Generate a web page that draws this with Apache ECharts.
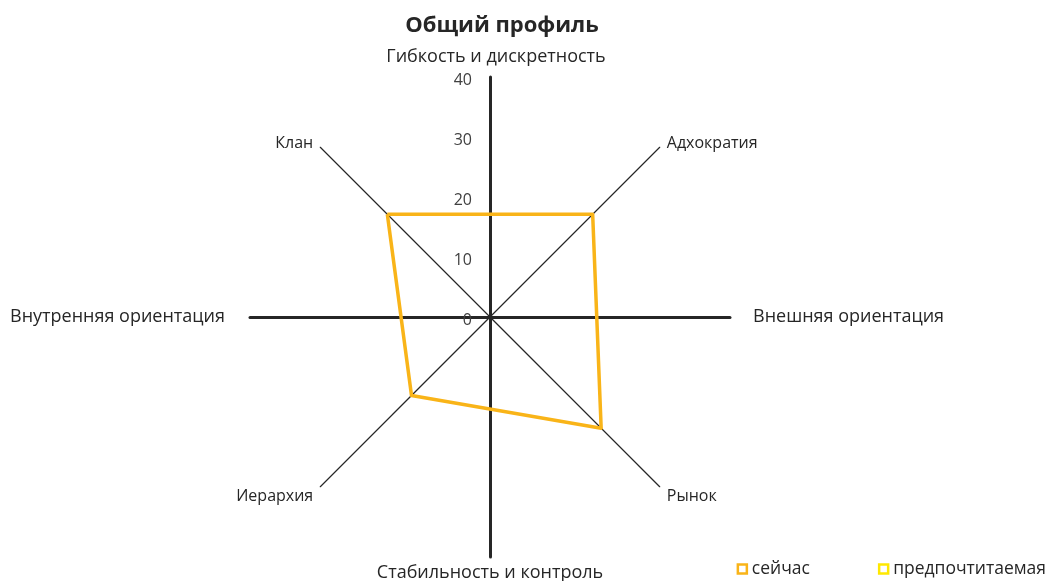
<!DOCTYPE html>
<html>
<head>
<meta charset="utf-8">
<script src="https://cdn.jsdelivr.net/npm/echarts@6/dist/echarts.min.js"></script>
<style>
  html, body { margin: 0; padding: 0; background: #ffffff; }
  #chart { width: 1053px; height: 581px; }
</style>
</head>
<body>
<div id="chart"></div>
<script>
// Culture types on the diagonals, listed from Клан going counter-clockwise
const cultureTypes = ['Клан', 'Иерархия', 'Рынок', 'Адхократия'];
// Poles of the two dimensions: top, left, bottom, right
const dimensionPoles = ['Гибкость и дискретность', 'Внутренняя ориентация', 'Стабильность и контроль', 'Внешняя ориентация'];
// Scores per culture type, same order as cultureTypes
const currentScores = [24.2, 18.5, 26.2, 24.2];
const preferredScores = [];
const seriesNames = ['сейчас', 'предпочтитаемая'];
const scaleMin = 0;
const scaleMax = 40;
const scaleSteps = 4;

const FONT = '"Open Sans", "Noto Sans", sans-serif';
const INK = '#262626';
const CURRENT_COLOR = '#F9B418';
const PREFERRED_COLOR = '#FFE800';
const CENTER = [490, 317];
const RADIUS = 240;

// name placement for each pole (top, left, bottom, right)
const poleNameGap = [11, 25, 7, 23];
const poleNamePadding = [[0, 0, 0, 12], 0, 0, 0];

const chart = echarts.init(document.getElementById('chart'), null, { renderer: 'canvas' });

chart.setOption({
  backgroundColor: '#ffffff',
  textStyle: { fontFamily: FONT },
  animation: false,
  title: {
    text: 'Общий профиль',
    left: 497,
    top: 10,
    textAlign: 'center',
    textStyle: { fontFamily: FONT, fontSize: 22, fontWeight: 'bold', color: INK }
  },
  legend: {
    right: 2,
    top: 555,
    itemGap: 68,
    itemWidth: 9,
    itemHeight: 9,
    textStyle: { fontFamily: FONT, fontSize: 17.5, color: INK },
    data: [
      { name: seriesNames[0], icon: 'rect', itemStyle: { color: '#ffffff', borderColor: CURRENT_COLOR, borderWidth: 2.5 } },
      { name: seriesNames[1], icon: 'rect', itemStyle: { color: '#ffffff', borderColor: PREFERRED_COLOR, borderWidth: 2.5 } }
    ]
  },
  radar: [
    {
      // diagonal axes for the four culture types
      center: CENTER,
      radius: RADIUS,
      startAngle: 135,
      splitNumber: scaleSteps,
      shape: 'polygon',
      indicator: cultureTypes.map((name) => ({ name: name, min: scaleMin, max: scaleMax })),
      axisNameGap: 10,
      axisName: {
        color: INK, fontFamily: FONT, fontSize: 16,
        formatter: (name) => '{n|' + name + '}',
        rich: { n: { fontFamily: FONT, fontSize: 16, color: INK, padding: [6, 0, 0, 0] } }
      },
      axisLine: { lineStyle: { color: INK, width: 1.2 } },
      axisTick: { show: false },
      axisLabel: { show: false },
      splitLine: { show: false },
      splitArea: { show: false }
    },
    {
      // bold cross of the two dimensions, scale shown on the upper arm
      center: CENTER,
      radius: RADIUS,
      startAngle: 90,
      splitNumber: scaleSteps,
      shape: 'polygon',
      indicator: dimensionPoles.map((name, i) => ({
        name: name,
        min: scaleMin,
        max: scaleMax,
        nameGap: poleNameGap[i],
        nameTextStyle: { padding: poleNamePadding[i] },
        axisLabel: { show: i === 0 }
      })),
      axisNameGap: 10,
      axisName: { color: INK, fontFamily: FONT, fontSize: 18 },
      axisLine: { lineStyle: { color: INK, width: 3 } },
      axisTick: { show: false },
      axisLabel: {
        show: false, color: '#404040', fontFamily: FONT, fontSize: 16, margin: 18,
        formatter: (v) => '{t|' + v + '}',
        rich: { t: { fontFamily: FONT, fontSize: 16, color: '#404040', padding: [6, 0, 0, 0] } }
      },
      splitLine: { show: false },
      splitArea: { show: false }
    }
  ],
  series: [
    {
      type: 'radar',
      name: seriesNames[0],
      radarIndex: 0,
      symbol: 'none',
      z: 3,
      lineStyle: { color: CURRENT_COLOR, width: 3.5 },
      itemStyle: { color: CURRENT_COLOR },
      data: [{ name: seriesNames[0], value: currentScores }]
    },
    {
      type: 'radar',
      name: seriesNames[1],
      radarIndex: 0,
      symbol: 'none',
      z: 3,
      lineStyle: { color: PREFERRED_COLOR, width: 3.5 },
      itemStyle: { color: PREFERRED_COLOR },
      data: preferredScores.length ? [{ name: seriesNames[1], value: preferredScores }] : []
    }
  ]
});
</script>
</body>
</html>
